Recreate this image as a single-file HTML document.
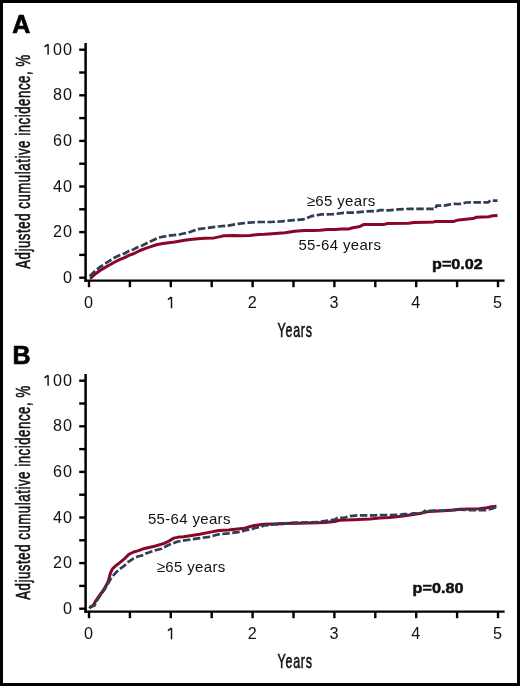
<!DOCTYPE html>
<html><head><meta charset="utf-8"><style>
html,body{margin:0;padding:0;background:#fff;}
body{width:520px;height:686px;position:relative;overflow:hidden;}
.frame{position:absolute;left:0;top:0;width:520px;height:686px;box-sizing:border-box;border:3px solid #000;}
svg{position:absolute;left:0;top:0;will-change:transform;}
text{font-family:"Liberation Sans",sans-serif;fill:#111;}
.tk{font-size:16.2px;}
.lb{font-size:15px;letter-spacing:0.33px;}
.pv{font-size:15px;font-weight:bold;stroke:#111;stroke-width:0.5px;}
.let{font-size:25px;font-weight:bold;fill:#000;stroke:#000;stroke-width:0.7px;}
.cd{font-size:20px;stroke:#111;stroke-width:0.6px;}
</style></head><body>
<div class="frame"></div>
<svg width="520" height="686" viewBox="0 0 520 686">
<line x1="85.6" y1="43" x2="85.6" y2="281.85" stroke="#000" stroke-width="2.5"/>
<line x1="84.35" y1="280.7" x2="504.6" y2="280.7" stroke="#000" stroke-width="2.3"/>
<line x1="79.2" y1="277.70" x2="85.6" y2="277.70" stroke="#000" stroke-width="2.4"/>
<text x="73.0" y="282.70" text-anchor="end" class="tk" letter-spacing="1">0</text>
<line x1="79.2" y1="254.90" x2="85.6" y2="254.90" stroke="#000" stroke-width="2.4"/>
<line x1="79.2" y1="232.10" x2="85.6" y2="232.10" stroke="#000" stroke-width="2.4"/>
<text x="73.0" y="237.10" text-anchor="end" class="tk" letter-spacing="1">20</text>
<line x1="79.2" y1="209.30" x2="85.6" y2="209.30" stroke="#000" stroke-width="2.4"/>
<line x1="79.2" y1="186.50" x2="85.6" y2="186.50" stroke="#000" stroke-width="2.4"/>
<text x="73.0" y="191.50" text-anchor="end" class="tk" letter-spacing="1">40</text>
<line x1="79.2" y1="163.70" x2="85.6" y2="163.70" stroke="#000" stroke-width="2.4"/>
<line x1="79.2" y1="140.90" x2="85.6" y2="140.90" stroke="#000" stroke-width="2.4"/>
<text x="73.0" y="145.90" text-anchor="end" class="tk" letter-spacing="1">60</text>
<line x1="79.2" y1="118.10" x2="85.6" y2="118.10" stroke="#000" stroke-width="2.4"/>
<line x1="79.2" y1="95.30" x2="85.6" y2="95.30" stroke="#000" stroke-width="2.4"/>
<text x="73.0" y="100.30" text-anchor="end" class="tk" letter-spacing="1">80</text>
<line x1="79.2" y1="72.50" x2="85.6" y2="72.50" stroke="#000" stroke-width="2.4"/>
<line x1="79.2" y1="49.70" x2="85.6" y2="49.70" stroke="#000" stroke-width="2.4"/>
<text x="73.0" y="54.70" text-anchor="end" class="tk" letter-spacing="1">00</text>
<path d="M44.50,46.90 L47.90,44.40 M48.10,44.20 L48.10,54.80" fill="none" stroke="#111" stroke-width="1.45"/>
<line x1="89.00" y1="280.7" x2="89.00" y2="287.2" stroke="#000" stroke-width="2.4"/>
<text x="88.60" y="308.2" text-anchor="middle" class="tk">0</text>
<line x1="129.90" y1="280.7" x2="129.90" y2="287.2" stroke="#000" stroke-width="2.4"/>
<line x1="170.80" y1="280.7" x2="170.80" y2="287.2" stroke="#000" stroke-width="2.4"/>
<path d="M167.90,299.70 L171.30,297.20 M171.50,297.00 L171.50,308.30" fill="none" stroke="#111" stroke-width="1.45"/>
<line x1="211.70" y1="280.7" x2="211.70" y2="287.2" stroke="#000" stroke-width="2.4"/>
<line x1="252.60" y1="280.7" x2="252.60" y2="287.2" stroke="#000" stroke-width="2.4"/>
<text x="252.20" y="308.2" text-anchor="middle" class="tk">2</text>
<line x1="293.50" y1="280.7" x2="293.50" y2="287.2" stroke="#000" stroke-width="2.4"/>
<line x1="334.40" y1="280.7" x2="334.40" y2="287.2" stroke="#000" stroke-width="2.4"/>
<text x="334.00" y="308.2" text-anchor="middle" class="tk">3</text>
<line x1="375.30" y1="280.7" x2="375.30" y2="287.2" stroke="#000" stroke-width="2.4"/>
<line x1="416.20" y1="280.7" x2="416.20" y2="287.2" stroke="#000" stroke-width="2.4"/>
<text x="415.80" y="308.2" text-anchor="middle" class="tk">4</text>
<line x1="457.10" y1="280.7" x2="457.10" y2="287.2" stroke="#000" stroke-width="2.4"/>
<line x1="498.00" y1="280.7" x2="498.00" y2="287.2" stroke="#000" stroke-width="2.4"/>
<text x="497.60" y="308.2" text-anchor="middle" class="tk">5</text>
<path d="M89.8,278.1 L90.8,278.0 L95.6,273.7 L100.0,270.5 L105.2,267.4 L110.0,264.8 L114.8,262.0 L119.6,259.7 L124.5,257.7 L129.0,255.4 L134.1,253.5 L140.0,250.5 L145.0,248.6 L151.5,246.4 L157.3,244.5 L163.1,243.6 L174.6,242.0 L186.2,240.1 L195.0,238.9 L204.6,238.2 L214.2,237.9 L219.0,236.9 L223.8,235.7 L233.5,235.5 L240.0,235.7 L249.6,235.5 L259.2,234.4 L264.2,234.3 L268.8,233.9 L278.5,233.2 L285.0,232.7 L294.6,231.3 L304.2,230.5 L313.8,230.4 L320.0,230.3 L327.7,229.5 L335.4,229.4 L341.5,229.1 L349.0,228.9 L352.7,227.7 L358.8,226.8 L361.0,225.8 L363.5,224.6 L383.5,224.4 L385.8,224.1 L387.7,223.4 L408.8,223.2 L413.7,222.4 L428.1,222.2 L433.7,222.0 L434.6,221.6 L453.8,221.4 L456.0,220.6 L458.7,219.9 L468.3,218.9 L474.4,218.2 L476.3,217.2 L488.8,216.7 L492.7,215.8 L497.5,215.5" fill="none" stroke="#8a0628" stroke-width="3.0" stroke-linejoin="round"/>
<path d="M89.8,276.3 L90.2,275.8 L95.6,270.5 L100.0,267.0 L105.2,263.7 L110.0,260.5 L114.8,257.5 L119.6,255.2 L124.5,253.5 L129.0,251.0 L134.1,249.2 L137.0,247.5 L142.3,245.5 L149.2,242.0 L158.5,237.6 L167.7,235.8 L179.2,234.5 L188.5,232.5 L197.7,229.2 L207.5,228.0 L217.6,226.5 L228.2,225.6 L238.3,223.8 L248.7,222.6 L259.2,222.0 L270.8,222.0 L281.3,221.3 L289.0,220.6 L293.2,220.2 L303.3,219.4 L307.0,218.0 L311.9,216.1 L321.5,214.4 L332.9,214.2 L343.5,212.8 L355.0,212.5 L364.6,211.5 L377.1,211.0 L380.0,210.1 L388.2,210.3 L398.3,209.4 L409.8,208.8 L429.3,208.9 L435.5,208.9 L436.5,205.6 L444.2,205.6 L449.0,204.6 L453.8,203.8 L459.6,204.0 L463.5,203.2 L466.0,202.5 L477.3,202.3 L488.4,202.3 L490.3,200.6 L497.5,200.6" fill="none" stroke="#2f3d55" stroke-width="2.7" stroke-dasharray="7.5 2.5" stroke-linejoin="round"/>
<text x="12.3" y="33.3" class="let">A</text>
<text transform="translate(432.0,268.8) scale(1.08,1)" class="pv">p=0.02</text>
<text x="298.4" y="250.2" class="lb">55-64 years</text>
<text x="306.8" y="206.2" class="lb">&#8805;65 years</text>
<text transform="translate(277.6,337.1) scale(0.62,1)" class="cd" letter-spacing="1.25">Years</text>
<text transform="translate(30.2,268.8) rotate(-90) scale(0.66,1)" class="cd" letter-spacing="0.85">Adjusted cumulative incidence, %</text>
<line x1="85.6" y1="374.0" x2="85.6" y2="612.85" stroke="#000" stroke-width="2.5"/>
<line x1="84.35" y1="611.7" x2="504.6" y2="611.7" stroke="#000" stroke-width="2.3"/>
<line x1="79.2" y1="608.70" x2="85.6" y2="608.70" stroke="#000" stroke-width="2.4"/>
<text x="73.0" y="613.70" text-anchor="end" class="tk" letter-spacing="1">0</text>
<line x1="79.2" y1="585.90" x2="85.6" y2="585.90" stroke="#000" stroke-width="2.4"/>
<line x1="79.2" y1="563.10" x2="85.6" y2="563.10" stroke="#000" stroke-width="2.4"/>
<text x="73.0" y="568.10" text-anchor="end" class="tk" letter-spacing="1">20</text>
<line x1="79.2" y1="540.30" x2="85.6" y2="540.30" stroke="#000" stroke-width="2.4"/>
<line x1="79.2" y1="517.50" x2="85.6" y2="517.50" stroke="#000" stroke-width="2.4"/>
<text x="73.0" y="522.50" text-anchor="end" class="tk" letter-spacing="1">40</text>
<line x1="79.2" y1="494.70" x2="85.6" y2="494.70" stroke="#000" stroke-width="2.4"/>
<line x1="79.2" y1="471.90" x2="85.6" y2="471.90" stroke="#000" stroke-width="2.4"/>
<text x="73.0" y="476.90" text-anchor="end" class="tk" letter-spacing="1">60</text>
<line x1="79.2" y1="449.10" x2="85.6" y2="449.10" stroke="#000" stroke-width="2.4"/>
<line x1="79.2" y1="426.30" x2="85.6" y2="426.30" stroke="#000" stroke-width="2.4"/>
<text x="73.0" y="431.30" text-anchor="end" class="tk" letter-spacing="1">80</text>
<line x1="79.2" y1="403.50" x2="85.6" y2="403.50" stroke="#000" stroke-width="2.4"/>
<line x1="79.2" y1="380.70" x2="85.6" y2="380.70" stroke="#000" stroke-width="2.4"/>
<text x="73.0" y="385.70" text-anchor="end" class="tk" letter-spacing="1">00</text>
<path d="M44.50,377.90 L47.90,375.40 M48.10,375.20 L48.10,385.80" fill="none" stroke="#111" stroke-width="1.45"/>
<line x1="89.00" y1="611.7" x2="89.00" y2="618.2" stroke="#000" stroke-width="2.4"/>
<text x="88.60" y="639.2" text-anchor="middle" class="tk">0</text>
<line x1="129.90" y1="611.7" x2="129.90" y2="618.2" stroke="#000" stroke-width="2.4"/>
<line x1="170.80" y1="611.7" x2="170.80" y2="618.2" stroke="#000" stroke-width="2.4"/>
<path d="M167.90,630.70 L171.30,628.20 M171.50,628.00 L171.50,639.30" fill="none" stroke="#111" stroke-width="1.45"/>
<line x1="211.70" y1="611.7" x2="211.70" y2="618.2" stroke="#000" stroke-width="2.4"/>
<line x1="252.60" y1="611.7" x2="252.60" y2="618.2" stroke="#000" stroke-width="2.4"/>
<text x="252.20" y="639.2" text-anchor="middle" class="tk">2</text>
<line x1="293.50" y1="611.7" x2="293.50" y2="618.2" stroke="#000" stroke-width="2.4"/>
<line x1="334.40" y1="611.7" x2="334.40" y2="618.2" stroke="#000" stroke-width="2.4"/>
<text x="334.00" y="639.2" text-anchor="middle" class="tk">3</text>
<line x1="375.30" y1="611.7" x2="375.30" y2="618.2" stroke="#000" stroke-width="2.4"/>
<line x1="416.20" y1="611.7" x2="416.20" y2="618.2" stroke="#000" stroke-width="2.4"/>
<text x="415.80" y="639.2" text-anchor="middle" class="tk">4</text>
<line x1="457.10" y1="611.7" x2="457.10" y2="618.2" stroke="#000" stroke-width="2.4"/>
<line x1="498.00" y1="611.7" x2="498.00" y2="618.2" stroke="#000" stroke-width="2.4"/>
<text x="497.60" y="639.2" text-anchor="middle" class="tk">5</text>
<path d="M89.6,608.5 L90.6,607.0 L93.1,605.5 L96.0,600.5 L98.3,597.2 L101.4,593.0 L104.5,588.3 L107.5,583.0 L108.7,579.5 L110.6,572.7 L112.5,568.8 L115.4,566.0 L119.2,563.1 L124.0,559.2 L128.8,554.4 L133.7,552.0 L138.5,550.6 L143.3,548.8 L149.0,547.5 L154.6,546.3 L164.2,543.4 L169.0,541.0 L173.8,538.1 L178.7,537.1 L183.5,536.7 L190.0,535.8 L199.6,534.3 L209.2,532.4 L218.8,530.5 L228.5,530.0 L235.0,529.2 L244.6,528.3 L254.2,525.4 L263.8,524.2 L273.5,523.9 L283.1,523.5 L299.2,523.3 L318.5,522.8 L325.0,522.6 L334.6,521.6 L339.4,520.2 L353.8,519.7 L363.5,519.2 L370.0,519.0 L379.6,518.1 L389.2,517.6 L398.8,516.6 L408.5,515.2 L418.1,513.8 L422.7,512.9 L429.4,511.4 L443.8,510.8 L453.5,510.1 L460.0,509.3 L469.6,509.0 L479.2,508.8 L486.9,507.8 L491.7,506.8 L496.5,506.3" fill="none" stroke="#8a0628" stroke-width="3.0" stroke-linejoin="round"/>
<path d="M89.6,606.9 L94.2,605.8 L96.5,601.5 L98.5,598.0 L101.4,594.0 L104.5,589.5 L107.5,584.5 L109.8,580.5 L111.5,577.5 L115.2,573.3 L119.4,569.3 L124.0,566.0 L128.8,561.6 L133.7,558.3 L138.5,556.3 L143.3,555.2 L146.0,553.5 L152.7,551.1 L161.3,548.7 L169.0,544.8 L177.7,541.5 L187.3,540.0 L193.1,539.2 L199.6,538.2 L209.2,536.8 L218.8,534.3 L228.5,533.4 L238.1,532.2 L241.7,531.6 L245.6,530.2 L251.3,529.5 L255.2,527.8 L261.0,527.0 L263.8,525.4 L270.6,525.0 L273.5,524.4 L283.1,524.0 L289.6,523.0 L299.2,522.6 L308.8,522.3 L318.5,522.0 L328.1,520.5 L334.6,519.7 L337.5,517.8 L344.2,517.8 L349.0,516.3 L352.9,515.8 L357.7,515.4 L375.0,515.3 L387.8,515.0 L398.8,514.9 L403.7,514.2 L410.4,514.2 L413.3,513.3 L420.0,513.3 L422.7,512.9 L424.6,510.8 L443.8,510.6 L453.5,510.0 L460.0,509.7 L469.6,510.2 L485.0,510.2 L491.7,508.8 L497.0,506.8" fill="none" stroke="#2f3d55" stroke-width="2.7" stroke-dasharray="7.5 2.5" stroke-linejoin="round"/>
<text x="12.6" y="364.3" class="let">B</text>
<text transform="translate(412.6,592.9) scale(1.08,1)" class="pv">p=0.80</text>
<text x="147.9" y="524.4" class="lb">55-64 years</text>
<text x="156.8" y="571.8" class="lb">&#8805;65 years</text>
<text transform="translate(277.6,668.1) scale(0.62,1)" class="cd" letter-spacing="1.25">Years</text>
<text transform="translate(30.2,599.8) rotate(-90) scale(0.66,1)" class="cd" letter-spacing="0.85">Adjusted cumulative incidence, %</text>
</svg>
</body></html>
